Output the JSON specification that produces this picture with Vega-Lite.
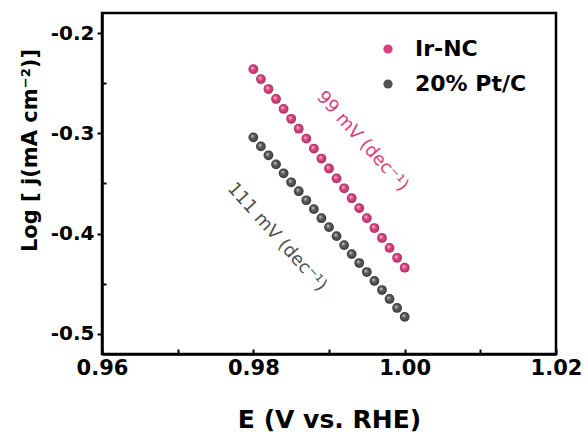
{
  "$schema": "https://vega.github.io/schema/vega-lite/v6.json",
  "width": 454,
  "height": 341,
  "autosize": "none",
  "padding": {"left": 102, "top": 13, "right": 32, "bottom": 78},
  "background": "white",
  "config": {
    "view": {"stroke": "black", "strokeWidth": 2.5},
    "font": "DejaVu Sans"
  },
  "datasets": {
    "pts": [
      {"E": 0.980, "logj": -0.2360, "series": "Ir-NC"},
      {"E": 0.981, "logj": -0.2459, "series": "Ir-NC"},
      {"E": 0.982, "logj": -0.2558, "series": "Ir-NC"},
      {"E": 0.983, "logj": -0.2657, "series": "Ir-NC"},
      {"E": 0.984, "logj": -0.2756, "series": "Ir-NC"},
      {"E": 0.985, "logj": -0.2855, "series": "Ir-NC"},
      {"E": 0.986, "logj": -0.2954, "series": "Ir-NC"},
      {"E": 0.987, "logj": -0.3053, "series": "Ir-NC"},
      {"E": 0.988, "logj": -0.3152, "series": "Ir-NC"},
      {"E": 0.989, "logj": -0.3251, "series": "Ir-NC"},
      {"E": 0.990, "logj": -0.3350, "series": "Ir-NC"},
      {"E": 0.991, "logj": -0.3449, "series": "Ir-NC"},
      {"E": 0.992, "logj": -0.3548, "series": "Ir-NC"},
      {"E": 0.993, "logj": -0.3647, "series": "Ir-NC"},
      {"E": 0.994, "logj": -0.3746, "series": "Ir-NC"},
      {"E": 0.995, "logj": -0.3845, "series": "Ir-NC"},
      {"E": 0.996, "logj": -0.3944, "series": "Ir-NC"},
      {"E": 0.997, "logj": -0.4043, "series": "Ir-NC"},
      {"E": 0.998, "logj": -0.4142, "series": "Ir-NC"},
      {"E": 0.999, "logj": -0.4241, "series": "Ir-NC"},
      {"E": 1.000, "logj": -0.4340, "series": "Ir-NC"},
      {"E": 0.980, "logj": -0.3040, "series": "20% Pt/C"},
      {"E": 0.981, "logj": -0.3130, "series": "20% Pt/C"},
      {"E": 0.982, "logj": -0.3219, "series": "20% Pt/C"},
      {"E": 0.983, "logj": -0.3309, "series": "20% Pt/C"},
      {"E": 0.984, "logj": -0.3398, "series": "20% Pt/C"},
      {"E": 0.985, "logj": -0.3488, "series": "20% Pt/C"},
      {"E": 0.986, "logj": -0.3577, "series": "20% Pt/C"},
      {"E": 0.987, "logj": -0.3667, "series": "20% Pt/C"},
      {"E": 0.988, "logj": -0.3756, "series": "20% Pt/C"},
      {"E": 0.989, "logj": -0.3846, "series": "20% Pt/C"},
      {"E": 0.990, "logj": -0.3935, "series": "20% Pt/C"},
      {"E": 0.991, "logj": -0.4025, "series": "20% Pt/C"},
      {"E": 0.992, "logj": -0.4114, "series": "20% Pt/C"},
      {"E": 0.993, "logj": -0.4204, "series": "20% Pt/C"},
      {"E": 0.994, "logj": -0.4293, "series": "20% Pt/C"},
      {"E": 0.995, "logj": -0.4383, "series": "20% Pt/C"},
      {"E": 0.996, "logj": -0.4472, "series": "20% Pt/C"},
      {"E": 0.997, "logj": -0.4562, "series": "20% Pt/C"},
      {"E": 0.998, "logj": -0.4651, "series": "20% Pt/C"},
      {"E": 0.999, "logj": -0.4741, "series": "20% Pt/C"},
      {"E": 1.000, "logj": -0.4830, "series": "20% Pt/C"}
    ],
    "notes": [
      {"E": 0.9944, "logj": -0.3082, "label": "99 mV (dec⁻¹)", "series": "Ir-NC"},
      {"E": 0.9831, "logj": -0.4036, "label": "111 mV (dec⁻¹)", "series": "20% Pt/C"}
    ]
  },
  "layer": [
    {
      "data": {"name": "pts"},
      "mark": {"type": "point", "filled": true, "size": 95, "opacity": 1, "shape": "circle"},
      "encoding": {
        "x": {
          "field": "E", "type": "quantitative",
          "scale": {"domain": [0.96, 1.02], "nice": false, "zero": false},
          "axis": {
            "title": "E (V vs. RHE)",
            "values": [0.96, 0.97, 0.98, 0.99, 1.00, 1.01, 1.02],
            "labelExpr": "abs(datum.value*50 - round(datum.value*50)) < 0.01 ? format(datum.value, '.2f') : ''",
            "grid": false,
            "domainColor": "black", "domainWidth": 2.5,
            "tickColor": "black", "tickWidth": 2,
            "tickSize": -5,
            "labelFont": "DejaVu Sans", "labelFontWeight": "bold", "labelFontSize": 21, "labelColor": "black",
            "labelPadding": 8, "labelFlush": false, "labelOverlap": false,
            "titleFont": "DejaVu Sans", "titleFontWeight": "bold", "titleFontSize": 25, "titleColor": "black",
            "titleBaseline": "alphabetic", "titleY": 73, "titleX": 227, "titleAlign": "center"
          }
        },
        "y": {
          "field": "logj", "type": "quantitative",
          "scale": {"domain": [-0.52, -0.18], "nice": false, "zero": false},
          "axis": {
            "title": "Log [ j(mA cm⁻²)]",
            "values": [-0.5, -0.45, -0.4, -0.35, -0.3, -0.25, -0.2],
            "labelExpr": "abs(datum.value*10 - round(datum.value*10)) < 0.01 ? replace(format(datum.value, '.1f'), '−', '-') : ''",
            "grid": false,
            "domainColor": "black", "domainWidth": 2.5,
            "tickColor": "black", "tickWidth": 2,
            "tickSize": {"condition": {"test": "abs(datum.value*10 - round(datum.value*10)) < 0.01", "value": 5}, "value": -4},
            "labelFont": "DejaVu Sans", "labelFontWeight": "bold", "labelFontSize": 20, "labelColor": "black",
            "labelPadding": 3, "labelFlush": false, "labelOverlap": false,
            "titleFont": "DejaVu Sans", "titleFontWeight": "bold", "titleFontSize": 21, "titleColor": "black",
            "titleAngle": 270, "titleBaseline": "middle", "titleAlign": "center", "titleX": -72, "titleY": 137
          }
        },
        "color": {
          "field": "series", "type": "nominal",
          "scale": {"domain": ["Ir-NC", "20% Pt/C"], "range": ["#D83D7D", "#505050"]},
          "legend": {
            "title": null, "orient": "none", "legendX": 275, "legendY": 25,
            "symbolType": "circle", "symbolSize": 85, "symbolStrokeWidth": 0,
            "labelFont": "DejaVu Sans", "labelFontWeight": "bold", "labelFontSize": 22, "labelColor": "black",
            "labelOffset": 16, "rowPadding": 13
          }
        }
      }
    },
    {
      "data": {"name": "pts"},
      "mark": {
        "type": "point", "filled": true, "size": 95, "shape": "circle", "opacity": 1,
        "fill": {
          "gradient": "radial", "x1": 0.38, "y1": 0.35, "r1": 0, "x2": 0.5, "y2": 0.5, "r2": 0.5,
          "stops": [
            {"offset": 0, "color": "rgba(255,255,255,0.75)"},
            {"offset": 0.35, "color": "rgba(255,255,255,0.2)"},
            {"offset": 0.7, "color": "rgba(0,0,0,0)"},
            {"offset": 1, "color": "rgba(0,0,0,0.3)"}
          ]
        }
      },
      "encoding": {
        "x": {"field": "E", "type": "quantitative"},
        "y": {"field": "logj", "type": "quantitative"}
      }
    },
    {
      "data": {"name": "notes"},
      "mark": {"type": "text", "angle": 48, "fontSize": 18, "font": "DejaVu Sans", "align": "center", "baseline": "middle"},
      "encoding": {
        "x": {"field": "E", "type": "quantitative"},
        "y": {"field": "logj", "type": "quantitative"},
        "text": {"field": "label"},
        "color": {"field": "series", "type": "nominal", "scale": {"domain": ["Ir-NC", "20% Pt/C"], "range": ["#D83D7D", "#505050"]}, "legend": null}
      }
    }
  ]
}
